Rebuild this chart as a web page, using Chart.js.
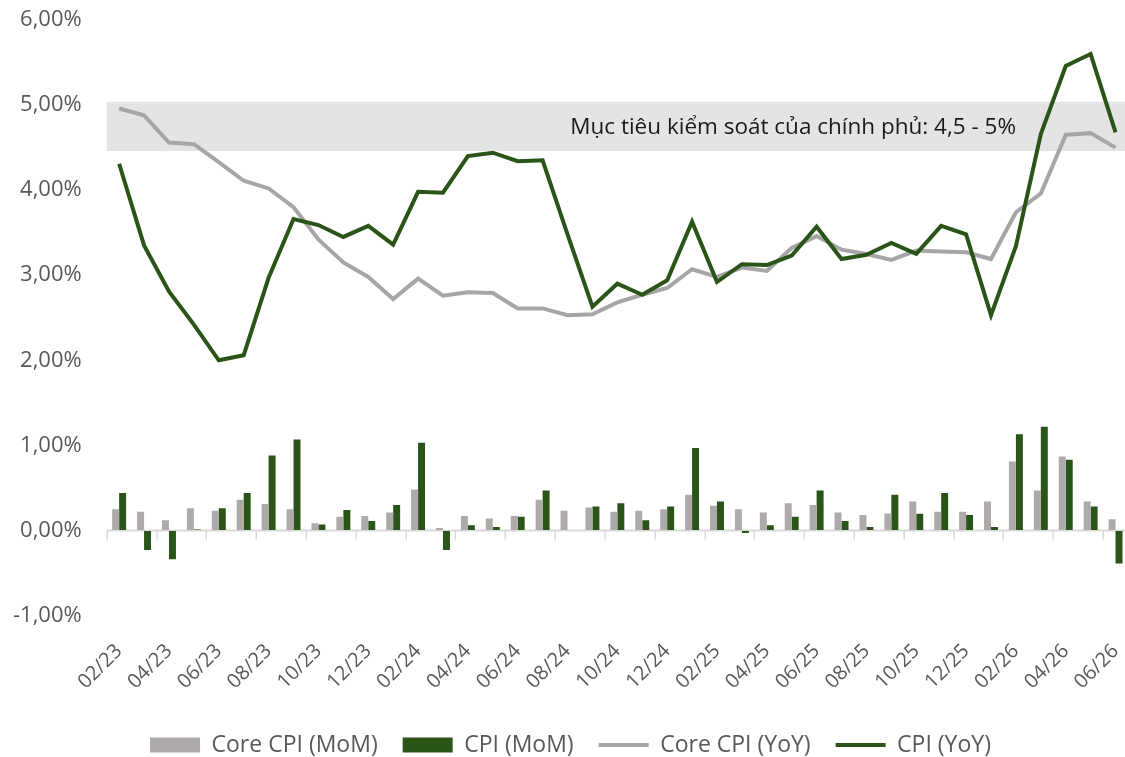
<!DOCTYPE html>
<html><head><meta charset="utf-8">
<script src="https://cdn.jsdelivr.net/npm/chart.js@4.4.0/dist/chart.umd.min.js"></script>
<style>html,body{margin:0;padding:0;background:#fff;overflow:hidden}
#wrap{width:1128px;height:757px;position:relative}
</style></head><body><div id="wrap"><canvas id="c"></canvas></div>
<script>
const months = ['02/23','03/23','04/23','05/23','06/23','07/23','08/23','09/23','10/23','11/23','12/23',
'01/24','02/24','03/24','04/24','05/24','06/24','07/24','08/24','09/24','10/24','11/24','12/24',
'01/25','02/25','03/25','04/25','05/25','06/25','07/25','08/25','09/25','10/25','11/25','12/25',
'01/26','02/26','03/26','04/26','05/26','06/26'];
const coreMoM = [0.25,0.22,0.12,0.26,0.23,0.36,0.31,0.25,0.085,0.16,0.17,0.21,0.48,0.03,0.17,0.14,0.17,0.36,0.23,0.27,0.22,0.23,0.25,0.42,0.29,0.25,0.21,0.32,0.30,0.21,0.18,0.20,0.34,0.22,0.22,0.34,0.81,0.47,0.87,0.34,0.13];
const cpiMoM = [0.44,-0.23,-0.34,0.01,0.26,0.44,0.88,1.07,0.07,0.24,0.11,0.30,1.03,-0.23,0.06,0.04,0.16,0.47,0.00,0.28,0.32,0.12,0.28,0.97,0.34,-0.03,0.06,0.16,0.47,0.11,0.04,0.42,0.195,0.44,0.18,0.04,1.13,1.22,0.83,0.28,-0.39];
const coreYoY = [4.96,4.88,4.56,4.54,4.33,4.11,4.02,3.80,3.42,3.15,2.98,2.72,2.96,2.76,2.80,2.79,2.61,2.61,2.53,2.54,2.68,2.77,2.85,3.07,2.98,3.09,3.05,3.32,3.46,3.30,3.25,3.18,3.29,3.28,3.27,3.19,3.74,3.96,4.65,4.67,4.50];
const cpiYoY = [4.31,3.35,2.81,2.42,2.00,2.06,2.97,3.66,3.59,3.45,3.58,3.36,3.98,3.97,4.40,4.44,4.34,4.35,3.48,2.63,2.90,2.77,2.94,3.63,2.92,3.13,3.12,3.23,3.57,3.19,3.24,3.38,3.25,3.58,3.48,2.53,3.34,4.66,5.46,5.60,4.68];
const seriesNames = ['Core CPI (MoM)','CPI (MoM)','Core CPI (YoY)','CPI (YoY)'];
const bandRange = [4.46, 5.04];
const bandLabel = 'Mục tiêu kiểm soát của chính phủ: 4,5 - 5%';
const yMin = -1, yMax = 6, yStep = 1;

const FONT = '"Open Sans", sans-serif';
const GREEN = '#2a5418', GRAYBAR = '#aeaaaa', GRAYLINE = '#a6a6a6', TXT = '#595959';

const decor = {
  id: 'decor',
  beforeDatasetsDraw(chart) {
    const {ctx, chartArea: a, scales: {x, y}} = chart;
    const t = y.getPixelForValue(bandRange[1]), b = y.getPixelForValue(bandRange[0]);
    ctx.save();
    ctx.fillStyle = '#e4e4e4';
    ctx.fillRect(a.left, t, a.right - a.left, b - t);
    ctx.fillStyle = '#1a1a1a';
    ctx.font = '22.5px ' + FONT;
    ctx.textAlign = 'right';
    ctx.textBaseline = 'middle';
    ctx.fillText(bandLabel, a.right - 112, (t + b) / 2 + 1);
    const y0 = y.getPixelForValue(0);
    ctx.strokeStyle = '#d9d9d9';
    ctx.lineWidth = 2;
    ctx.beginPath(); ctx.moveTo(a.left, y0); ctx.lineTo(a.right, y0); ctx.stroke();
    const half = (x.getPixelForValue(1) - x.getPixelForValue(0)) / 2;
    ctx.lineWidth = 1.5;
    for (let i = 0; i <= months.length; i += 2) {
      const px = Math.round(x.getPixelForValue(Math.min(i, months.length - 1)) + (i < months.length ? -half : half)) + 0.25;
      ctx.beginPath(); ctx.moveTo(px, y0); ctx.lineTo(px, y0 + 9); ctx.stroke();
    }
    ctx.restore();
  }
};

new Chart(document.getElementById('c'), {
  data: {
    labels: months,
    datasets: [
      {type: 'bar', label: seriesNames[0], data: coreMoM, backgroundColor: GRAYBAR, order: 2, categoryPercentage: 0.56, barPercentage: 1},
      {type: 'bar', label: seriesNames[1], data: cpiMoM, backgroundColor: GREEN, order: 3, categoryPercentage: 0.56, barPercentage: 1},
      {type: 'line', label: seriesNames[2], data: coreYoY, borderColor: GRAYLINE, backgroundColor: GRAYLINE, borderWidth: 4, pointRadius: 0, tension: 0, order: 1},
      {type: 'line', label: seriesNames[3], data: cpiYoY, borderColor: GREEN, backgroundColor: GREEN, borderWidth: 4, pointRadius: 0, tension: 0, order: 0}
    ]
  },
  options: {
    responsive: true, maintainAspectRatio: false, animation: false,
    devicePixelRatio: 1,
    layout: {padding: {left: 13, top: 20, right: 0, bottom: -9.5}},
    scales: {
      x: {
        grid: {display: true, drawOnChartArea: false, color: 'rgba(0,0,0,0)', tickLength: 29},
        border: {display: false},
        afterFit: s => { s.height = 93; },
        ticks: {autoSkip: false, maxRotation: 45, minRotation: 45, padding: -5, color: TXT, font: {family: FONT, size: 20},
          callback: (v, i) => (i % 2 === 0 ? months[i] : '')}
      },
      y: {
        min: yMin, max: yMax,
        grid: {display: true, drawOnChartArea: false, color: 'rgba(0,0,0,0)', tickLength: 25},
        border: {display: false},
        ticks: {stepSize: yStep, padding: 0, color: TXT, font: {family: FONT, size: 22},
          callback: v => v.toFixed(2).replace('.', ',') + '%'}
      }
    },
    plugins: {
      tooltip: {enabled: false},
      legend: {
        position: 'bottom',
        labels: {
          usePointStyle: true, pointStyleWidth: 50, boxHeight: 15, padding: 25,
          color: TXT, font: {family: FONT, size: 23},
          sort: (a, b) => a.datasetIndex - b.datasetIndex,
          generateLabels(chart) {
            const items = Chart.defaults.plugins.legend.labels.generateLabels(chart);
            items.forEach(it => { it.pointStyle = chart.data.datasets[it.datasetIndex].type === 'line' ? 'line' : 'rect'; });
            return items;
          }
        }
      }
    }
  },
  plugins: [decor]
});
</script></body></html>
